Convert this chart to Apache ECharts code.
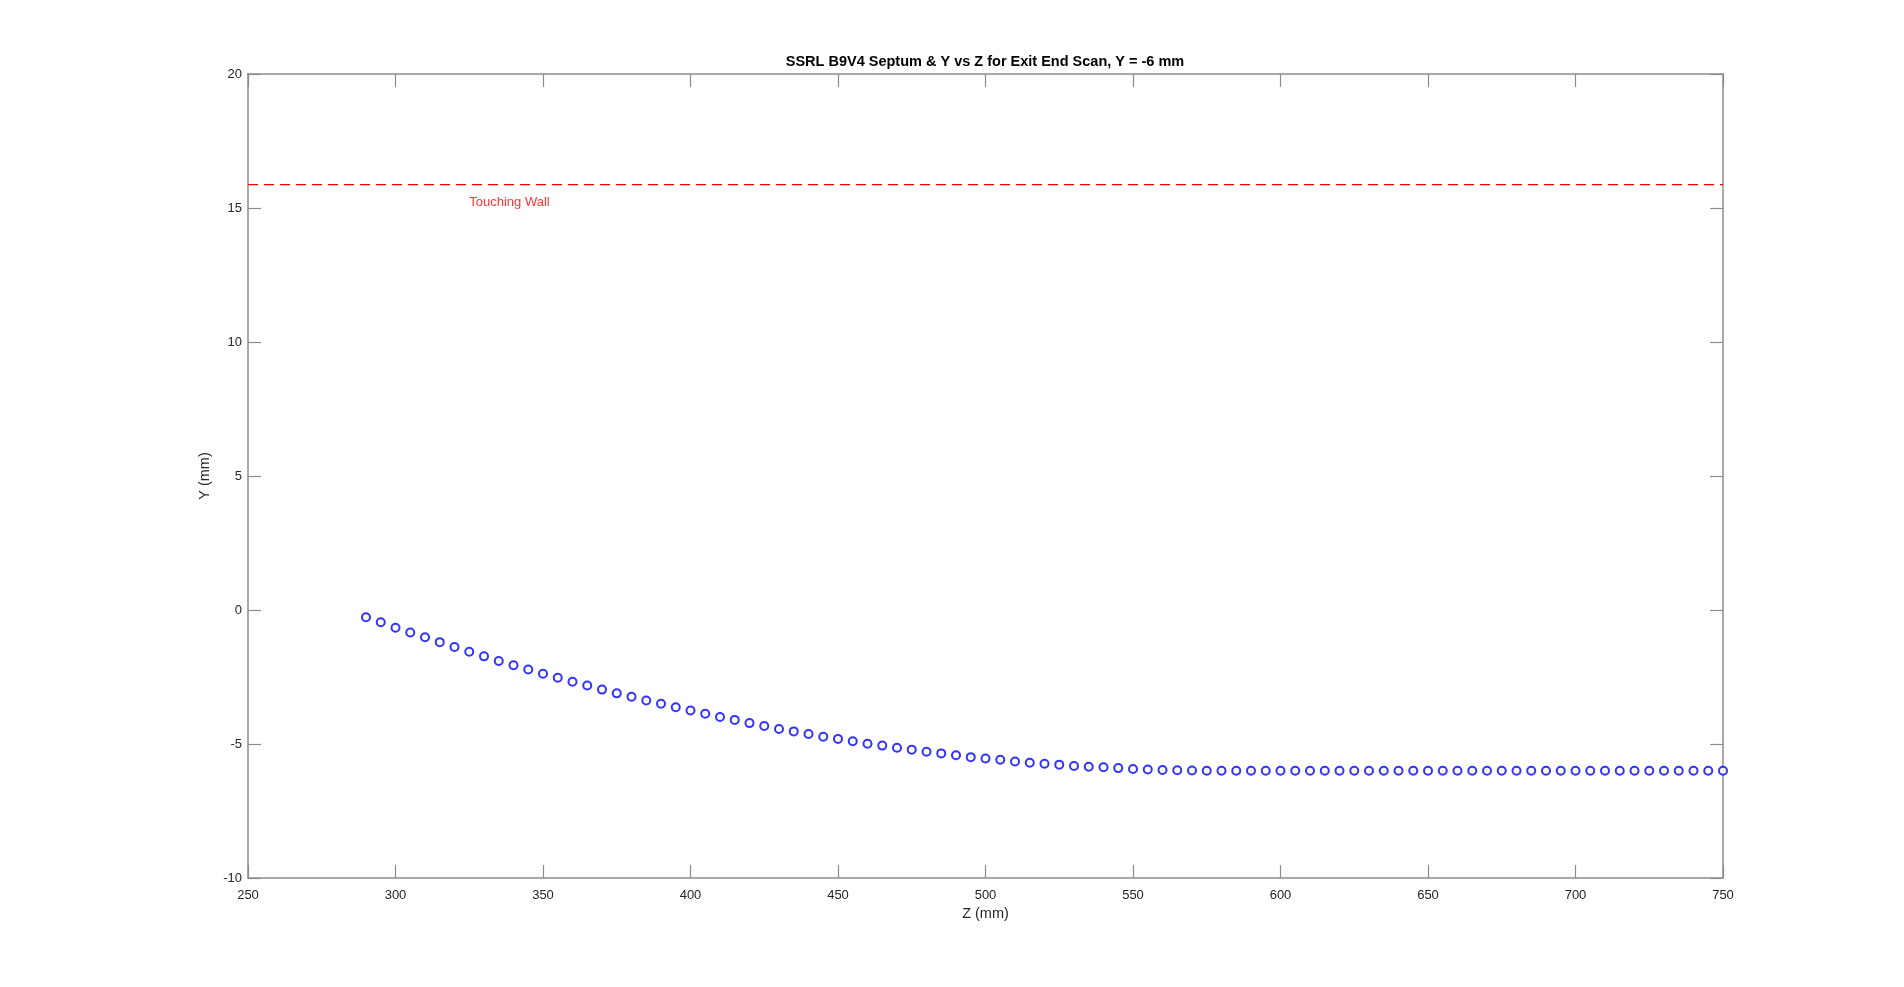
<!DOCTYPE html>
<html>
<head>
<meta charset="utf-8">
<script src="https://cdn.jsdelivr.net/npm/echarts@6/dist/echarts.min.js"></script>
<style>
html,body{margin:0;padding:0;background:#fff;}
#chart{width:1904px;height:987px;}
</style>
</head>
<body>
<div id="chart"></div>
<script>
// ---- data ----
const titleText = 'SSRL B9V4 Septum & Y vs Z for Exit End Scan, Y = -6 mm';
const xAxisName = 'Z (mm)';
const yAxisName = 'Y (mm)';
const xTicks = [250, 300, 350, 400, 450, 500, 550, 600, 650, 700, 750];
const yTicks = [-10, -5, 0, 5, 10, 15, 20];

const scanZ = [290, 295, 300, 305, 310, 315, 320, 325, 330, 335, 340, 345, 350, 355, 360, 365, 370, 375, 380, 385,
  390, 395, 400, 405, 410, 415, 420, 425, 430, 435, 440, 445, 450, 455, 460, 465, 470, 475, 480, 485,
  490, 495, 500, 505, 510, 515, 520, 525, 530, 535, 540, 545, 550, 555, 560, 565, 570, 575, 580, 585,
  590, 595, 600, 605, 610, 615, 620, 625, 630, 635, 640, 645, 650, 655, 660, 665, 670, 675, 680, 685,
  690, 695, 700, 705, 710, 715, 720, 725, 730, 735, 740, 745, 750];
const scanY = [-0.27, -0.46, -0.66, -0.84, -1.02, -1.20, -1.38, -1.56, -1.73, -1.90, -2.06, -2.22, -2.38, -2.53, -2.68, -2.82, -2.97, -3.11, -3.24, -3.38,
  -3.50, -3.63, -3.75, -3.87, -3.99, -4.10, -4.22, -4.33, -4.44, -4.53, -4.63, -4.73, -4.81, -4.90, -4.99, -5.06, -5.14, -5.21, -5.29, -5.35,
  -5.42, -5.49, -5.54, -5.59, -5.65, -5.70, -5.74, -5.77, -5.82, -5.85, -5.87, -5.90, -5.93, -5.95, -5.97, -5.98, -5.99, -6.00, -6.00, -6.00,
  -6.00, -6.00, -6.00, -6.00, -6.00, -6.00, -6.00, -6.00, -6.00, -6.00, -6.00, -6.00, -6.00, -6.00, -6.00, -6.00, -6.00, -6.00, -6.00, -6.00,
  -6.00, -6.00, -6.00, -6.00, -6.00, -6.00, -6.00, -6.00, -6.00, -6.00, -6.00, -6.00, -6.00];

const wallZ = [250, 750];
const wallY = [15.87, 15.87];
const wallLabel = 'Touching Wall';
const wallLabelPos = [325, 15.2];

// ---- chart ----
const FONT = '"Liberation Sans", Arial, Helvetica, sans-serif';
const AX = '#8c8c8c';
const TXT = '#262626';
const chart = echarts.init(document.getElementById('chart'), null, {renderer: 'canvas'});

const xMin = xTicks[0], xMax = xTicks[xTicks.length - 1];
const yMin = yTicks[0], yMax = yTicks[yTicks.length - 1];
const xInt = xTicks[1] - xTicks[0];
const yInt = yTicks[1] - yTicks[0];

function baseAxis(extra) {
  return Object.assign({
    type: 'value',
    splitLine: {show: false},
    axisLine: {show: true, onZero: false, lineStyle: {color: AX, width: 1.5}},
    axisTick: {show: true, inside: true, length: 13, lineStyle: {color: AX, width: 1.2}},
  }, extra);
}

const option = {
  animation: false,
  backgroundColor: '#fff',
  title: {
    text: titleText,
    left: 985,
    textAlign: 'center',
    top: 54,
    padding: 0,
    textStyle: {fontFamily: FONT, fontSize: 14.5, fontWeight: 'bold', color: '#000'}
  },
  grid: {left: 248, right: 181, top: 74, bottom: 109, containLabel: false},
  xAxis: [
    baseAxis({
      position: 'bottom', min: xMin, max: xMax, interval: xInt,
      name: xAxisName, nameLocation: 'middle', nameGap: 26,
      nameTextStyle: {fontFamily: FONT, fontSize: 14.5, color: TXT},
      axisLabel: {show: true, margin: 11, fontFamily: FONT, fontSize: 13, color: TXT,
        formatter: v => String(v)}
    }),
    baseAxis({
      position: 'top', min: xMin, max: xMax, interval: xInt,
      axisLabel: {show: false}
    })
  ],
  yAxis: [
    baseAxis({
      position: 'left', min: yMin, max: yMax, interval: yInt,
      name: yAxisName, nameLocation: 'middle', nameGap: 20, nameRotate: 90,
      nameTextStyle: {fontFamily: FONT, fontSize: 14.5, color: TXT},
      axisLabel: {show: true, margin: 6, fontFamily: FONT, fontSize: 13, color: TXT,
        formatter: v => String(v)}
    }),
    baseAxis({
      position: 'right', min: yMin, max: yMax, interval: yInt,
      axisLabel: {show: false}
    })
  ],
  series: [
    {
      type: 'line',
      xAxisIndex: 0, yAxisIndex: 0,
      data: wallZ.map((z, i) => [z, wallY[i]]),
      symbol: 'none',
      lineStyle: {color: '#ff0000', width: 1.2, type: [10, 6]},
      silent: true, z: 2
    },
    {
      type: 'scatter',
      xAxisIndex: 0, yAxisIndex: 0,
      data: [wallLabelPos],
      symbolSize: 0,
      label: {show: true, position: 'right', distance: 0, formatter: wallLabel,
        fontFamily: FONT, fontSize: 13, color: '#ff0000'},
      silent: true, z: 3
    },
    {
      type: 'scatter',
      xAxisIndex: 0, yAxisIndex: 0,
      data: scanZ.map((z, i) => [z, scanY[i]]),
      symbol: 'emptyCircle',
      symbolSize: 8,
      itemStyle: {color: '#0000ff', borderColor: '#0000ff', borderWidth: 1},
      silent: true, z: 4
    }
  ]
};
chart.setOption(option);
</script>
</body>
</html>
